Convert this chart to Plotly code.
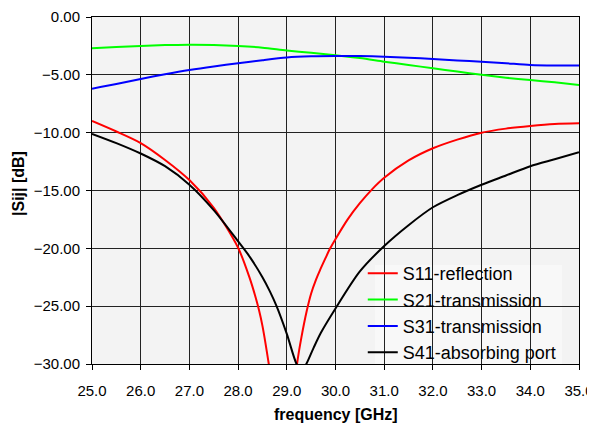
import plotly.graph_objects as go

# frequency grids (GHz)
freq_smooth = [25.0, 25.5, 26.0, 26.5, 27.0, 27.5, 28.0, 28.5, 29.0, 29.5, 30.0,
               30.5, 31.0, 31.5, 32.0, 32.5, 33.0, 33.5, 34.0, 34.5, 35.0]
s21 = [-2.70, -2.60, -2.50, -2.43, -2.40, -2.42, -2.50, -2.65, -2.90, -3.10, -3.30,
       -3.55, -3.86, -4.15, -4.43, -4.72, -5.00, -5.25, -5.45, -5.65, -5.88]
s31 = [-6.20, -5.80, -5.36, -4.95, -4.58, -4.27, -4.00, -3.73, -3.50, -3.40, -3.37,
       -3.38, -3.43, -3.52, -3.63, -3.75, -3.86, -4.00, -4.15, -4.20, -4.20]

freq_s11 = [25.0, 25.5, 26.0, 26.5, 27.0, 27.5, 28.0, 28.24, 28.35, 28.43, 28.5,
            28.63, 28.75, 28.92, 29.1, 29.21, 29.3, 29.41, 29.5, 29.6, 29.68,
            29.8, 29.89, 30.0, 30.25, 30.5, 30.75, 31.0, 31.5, 32.0, 32.5, 33.0,
            33.5, 34.0, 34.5, 35.0]
s11 = [-8.99, -9.9, -10.9, -12.36, -14.1, -16.5, -19.95, -22.6, -24.1, -25.35, -26.7,
       -30.0, -33.5, -42.0, -34.1, -30.0, -27.7, -25.4, -23.9, -22.7, -21.9,
       -20.8, -20.0, -19.2, -17.5, -16.1, -14.9, -13.9, -12.4, -11.35, -10.6, -10.0,
       -9.65, -9.42, -9.25, -9.19]

freq_s41 = [25.0, 25.5, 26.0, 26.5, 27.0, 27.5, 28.0, 28.25, 28.5, 28.65, 28.79, 29.0,
            29.2, 29.3, 29.4, 29.55, 29.7, 30.0, 30.5, 31.0, 31.5, 32.0, 32.5, 33.0,
            33.5, 34.0, 34.5, 35.0]
s41 = [-10.1, -10.9, -11.8, -12.9, -14.5, -16.7, -19.4, -20.8, -22.5, -23.7, -25.0, -27.4,
       -30.0, -30.6, -30.0, -28.6, -27.3, -25.2, -22.0, -19.8, -18.0, -16.45, -15.4, -14.5,
       -13.7, -12.9, -12.3, -11.7]

x_ticks = [25, 26, 27, 28, 29, 30, 31, 32, 33, 34, 35]
y_ticks = [0, -5, -10, -15, -20, -25, -30]

FONT = "Arial, Liberation Sans, sans-serif"
SM = 0.8

fig = go.Figure()
fig.add_trace(go.Scatter(x=freq_s11, y=s11, mode="lines", name="S11-reflection",
                         line=dict(color="#ff0000", width=2, shape="spline", smoothing=SM)))
fig.add_trace(go.Scatter(x=freq_smooth, y=s21, mode="lines", name="S21-transmission",
                         line=dict(color="#00ff00", width=2, shape="spline", smoothing=SM)))
fig.add_trace(go.Scatter(x=freq_smooth, y=s31, mode="lines", name="S31-transmission",
                         line=dict(color="#0000ff", width=2, shape="spline", smoothing=SM)))
fig.add_trace(go.Scatter(x=freq_s41, y=s41, mode="lines", name="S41-absorbing port",
                         line=dict(color="#000000", width=2, shape="spline", smoothing=SM)))

# the page body has an 8px default margin, so the figure is 8px smaller
fig.update_layout(
    width=587, height=423,
    margin=dict(l=84, r=16, t=9, b=67, autoexpand=False),
    paper_bgcolor="white",
    plot_bgcolor="#f3f3f3",
    font=dict(family=FONT, size=15, color="black"),
    showlegend=True,
    legend=dict(x=0.556, y=-0.02, xanchor="left", yanchor="bottom",
                bgcolor="rgba(0,0,0,0)", borderwidth=0,
                font=dict(family=FONT, size=18, color="black"),
                itemwidth=30, tracegroupgap=0),
    shapes=[
        dict(type="rect", xref="paper", yref="paper", x0=0.581, x1=0.965, y0=0.0, y1=0.285,
             fillcolor="#f8f8f8", line=dict(width=0), layer="between"),
    ],
    annotations=[
        dict(text="<b>frequency [GHz]</b>", xref="paper", yref="paper",
             x=0.5, y=-0.145, xanchor="center", yanchor="middle", showarrow=False,
             font=dict(family=FONT, size=16, color="black")),
        dict(text="<b>|Sij| [dB]</b>", xref="paper", yref="paper",
             x=-0.151, y=0.52, xanchor="center", yanchor="middle", showarrow=False,
             textangle=-90, font=dict(family=FONT, size=16, color="black")),
    ],
)
fig.update_xaxes(
    range=[25, 35], tickvals=x_ticks, tickformat=".1f", automargin=False,
    showgrid=True, gridcolor="#222222", gridwidth=1,
    showline=True, linecolor="black", linewidth=1, mirror=True,
    ticks="outside", ticklen=5, tickcolor="black", ticklabelstandoff=8,
    zeroline=False,
)
fig.update_yaxes(
    range=[-30, 0], tickvals=y_ticks, tickformat=".2f", automargin=False,
    showgrid=True, gridcolor="#222222", gridwidth=1,
    showline=True, linecolor="black", linewidth=1, mirror=True,
    ticks="outside", ticklen=5, tickcolor="black", ticklabelstandoff=3,
    zeroline=False,
)

fig.write_html("out.html")
